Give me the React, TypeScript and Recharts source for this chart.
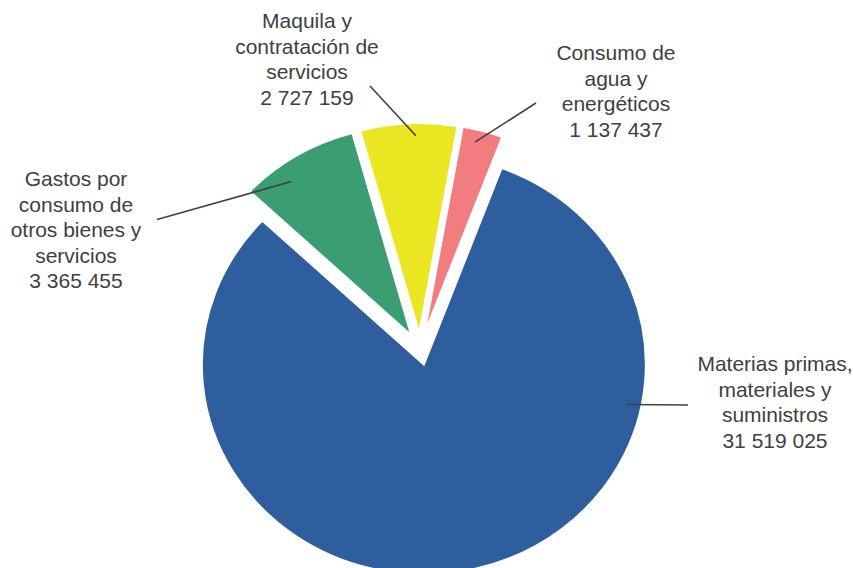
import { PieChart, Pie, Sector } from 'recharts';

const CATEGORIES = [
  'Materias primas, materiales y suministros',
  'Gastos por consumo de otros bienes y servicios',
  'Maquila y contratación de servicios',
  'Consumo de agua y energéticos',
];
const VALUES = [31519025, 3365455, 2727159, 1137437];
const LABEL_LINES = [
  ['Materias primas,', 'materiales y', 'suministros'],
  ['Gastos por', 'consumo de', 'otros bienes y', 'servicios'],
  ['Maquila y', 'contratación de', 'servicios'],
  ['Consumo de', 'agua y', 'energéticos'],
];

const COLORS = ['#2e5e9e', '#3a9e72', '#eae621', '#f27d80'];
const TEXT = '#404040';
const EXPLODE = 17;
const SQUASH = 0.945;
const FIRST_SLICE = 20.5; // degrees clockwise from 12 o'clock

// text block (centre x, first baseline), leader start, leader anchor on slice
const LABEL_LAYOUT = [
  { x: 775, y: 371, lx: 688, ly: 405, a: 101.8, r: 0.93 },
  { x: 76, y: 186, lx: 157, ly: 219.5, a: 323.6, r: 0.91 },
  { x: 307, y: 28, lx: 370, ly: 86, a: 359.1, r: 0.94 },
  { x: 616, y: 60, lx: 536, ly: 103, a: 14, r: 0.94 },
];
const LINE_H = 25.5;

const data = CATEGORIES.map((name, i) => ({ name, value: VALUES[i] }));

const fmt = (v: number) => String(v).replace(/\B(?=(\d{3})+(?!\d))/g, ' ');

const RAD = Math.PI / 180;

function renderSlice(p: any) {
  const { cx, cy, outerRadius, startAngle, endAngle, index, value } = p;
  const mid = (startAngle + endAngle) / 2;
  const sx = cx + EXPLODE * Math.cos(mid * RAD);
  const sy = cy - EXPLODE * Math.sin(mid * RAD);
  const lay = LABEL_LAYOUT[index];
  const ang = 90 - lay.a;
  const ax = sx + outerRadius * lay.r * Math.cos(ang * RAD);
  const ayCircle = sy - outerRadius * lay.r * Math.sin(ang * RAD);
  const ay = cy + (ayCircle - cy) * SQUASH;
  const lines = [...LABEL_LINES[index], fmt(value)];
  return (
    <g key={`slice-${index}`}>
      <g transform={`translate(0 ${cy}) scale(1 ${SQUASH}) translate(0 ${-cy})`}>
        <Sector
          cx={sx}
          cy={sy}
          innerRadius={0}
          outerRadius={outerRadius}
          startAngle={startAngle}
          endAngle={endAngle}
          fill={COLORS[index]}
          stroke="#fff"
          strokeWidth={2}
        />
      </g>
      <line x1={lay.lx} y1={lay.ly} x2={ax} y2={ay} stroke={TEXT} strokeWidth={1.6} />
      <text x={lay.x} y={lay.y} textAnchor="middle" fill={TEXT} fontSize={21} fontFamily="'Liberation Sans', Arial, sans-serif">
        {lines.map((t, i) => (
          <tspan key={i} x={lay.x} y={lay.y + i * LINE_H}>{t}</tspan>
        ))}
      </text>
    </g>
  );
}

export default function App() {
  return (
    <div style={{ position: 'absolute', left: 0, top: 0, background: '#fff' }}>
      <PieChart width={853} height={568} margin={{ top: 0, right: 0, bottom: 0, left: 0 }}>
        <Pie
          data={data}
          dataKey="value"
          nameKey="name"
          cx={420}
          cy={349}
          outerRadius={222}
          startAngle={90 - FIRST_SLICE}
          endAngle={90 - FIRST_SLICE - 360}
          fill="none"
          stroke="none"
          label={renderSlice}
          labelLine={false}
          isAnimationActive={false}
        />
      </PieChart>
    </div>
  );
}
